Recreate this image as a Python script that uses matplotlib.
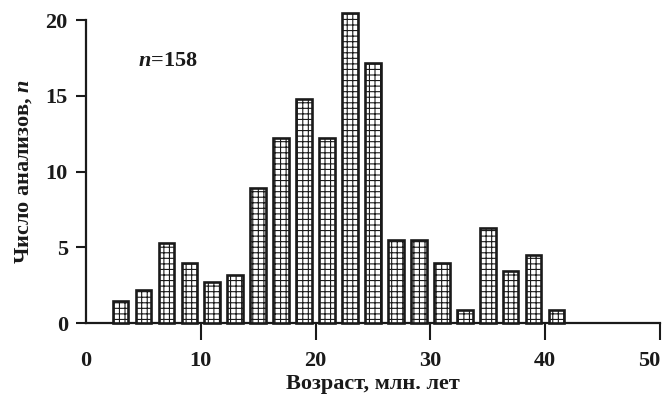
import matplotlib
matplotlib.use("Agg")
import matplotlib.pyplot as plt

# Bin centres (million years) and counts
ages = [3, 5, 7, 9, 11, 13, 15, 17, 19, 21, 23, 25, 27, 29, 31, 33, 35, 37, 39, 41]
counts = [1.45, 2.2, 5.3, 4.0, 2.7, 3.2, 8.9, 12.25, 14.8, 12.25,
          20.5, 17.15, 5.5, 5.5, 4.0, 0.9, 6.3, 3.45, 4.5, 0.9]
x_ticks = [0, 10, 20, 30, 40, 50]
y_ticks = [0, 5, 10, 15, 20]

INK = "#1a1a1a"

plt.rcParams["font.family"] = ["Liberation Serif", "DejaVu Serif"]
plt.rcParams["font.weight"] = "bold"
plt.rcParams["mathtext.fontset"] = "custom"
plt.rcParams["mathtext.it"] = "Liberation Serif:italic:bold"
plt.rcParams["mathtext.rm"] = "Liberation Serif:bold"
plt.rcParams["hatch.color"] = INK
plt.rcParams["hatch.linewidth"] = 0.8

fig = plt.figure(figsize=(6.66, 3.96), dpi=100)
ax = fig.add_axes([0.129, 0.184, 0.862, 0.765])

ax.bar(ages, counts, width=1.35, facecolor="white", edgecolor=INK,
       linewidth=1.9, hatch="+++", clip_on=False, zorder=3)

ax.set_xlim(0, 50)
ax.set_ylim(0, 20)
ax.set_xticks(x_ticks)
ax.set_yticks(y_ticks)
ax.tick_params(axis="x", direction="out", length=12, width=1.5, pad=8,
               labelsize=16, colors=INK)
ax.tick_params(axis="y", direction="out", length=7, width=1.5, pad=6,
               labelsize=16, colors=INK)
ax.xaxis.get_major_ticks()[0].tick1line.set_visible(False)
ax.get_xticklabels()[-1].set_horizontalalignment("right")

for side in ("top", "right"):
    ax.spines[side].set_visible(False)
for side in ("left", "bottom"):
    ax.spines[side].set_linewidth(1.6)
    ax.spines[side].set_color(INK)

ax.set_xlabel("Возраст, млн. лет", fontsize=16, fontweight="bold",
              color=INK, labelpad=2)
ax.set_ylabel("Число анализов, $n$", fontsize=16, fontweight="bold",
              color=INK, labelpad=8)

ax.text(4.5, 17.3, "$n$=158", fontsize=16, fontweight="bold",
        va="center", ha="left", color=INK)

fig.savefig("out.png", dpi=100, facecolor="white")
